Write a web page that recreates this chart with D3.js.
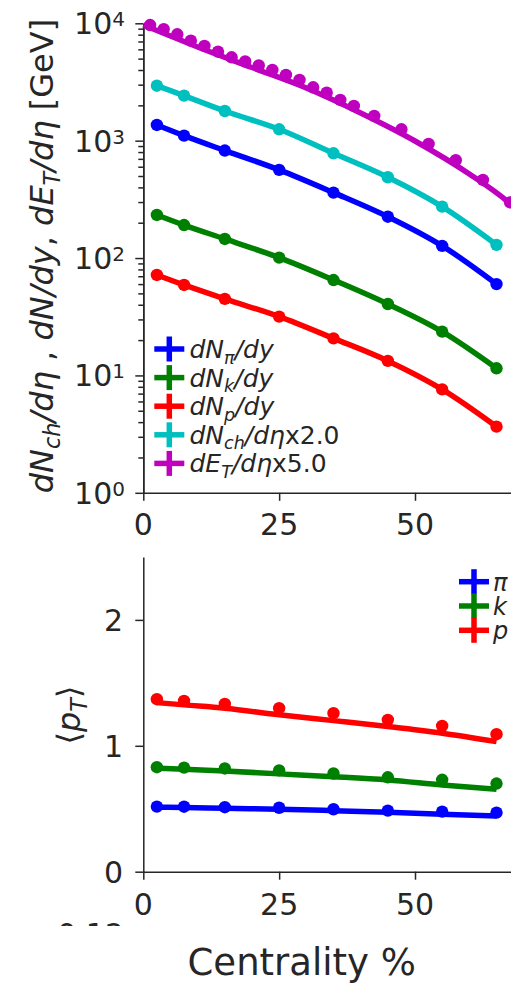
<!DOCTYPE html>
<html>
<head>
<meta charset="utf-8">
<script src="https://cdn.jsdelivr.net/npm/d3@7"></script>
<style>
body{margin:0;background:#fff;}
svg{display:block;font-family:"DejaVu Sans",sans-serif;}
text{white-space:pre;}
</style>
</head>
<body>
<script>
// centrality bins (bin centres, %)
var centrality = [2.5, 7.5, 15, 25, 35, 45, 55, 65];

// multiplicities
var dNpi  = [1361, 1104, 824, 564, 361, 225, 127, 60];
var dNk   = [233, 191, 145.5, 100.8, 65, 40.6, 23.6, 11.5];
var dNp   = [71.8, 59, 44.9, 31.7, 20.7, 13.3, 7.6, 3.66];
var dNch2 = [2940, 2418, 1790, 1250, 781, 488, 274, 129.5];

// transverse energy (x5), finer binning
var etCentrality = [1.25, 3.75, 6.25, 8.75, 11.25, 13.75, 16.25, 18.75, 21.25, 23.75,
                    26.25, 28.75, 31.25, 33.75, 36.25, 38.75, 42.5, 47.5, 52.5, 57.5, 62.5, 67.5];
var dEt5 = [9670, 8900, 8060, 7110, 6410, 5730, 5130, 4730, 4370, 4000,
            3630, 3290, 2850, 2565, 2222, 1976, 1625, 1251, 937, 682, 463, 298];
var etModelX = [0, 5, 10, 20, 30, 40, 50, 60, 67.5, 70];
var etModel  = [9672, 7798, 6285, 4203, 2812, 1722, 994, 520, 291, 228];

// mean pT
var ptPi = [0.517, 0.516, 0.512, 0.508, 0.496, 0.485, 0.477, 0.469];
var ptK  = [0.83, 0.827, 0.82, 0.805, 0.78, 0.75, 0.73, 0.70];
var ptP  = [1.37, 1.357, 1.333, 1.299, 1.259, 1.206, 1.158, 1.092];
var ptPiModel = [0.512, 0.510, 0.503, 0.496, 0.485, 0.472, 0.456, 0.443];
var ptKModel  = [0.822, 0.814, 0.800, 0.777, 0.755, 0.729, 0.689, 0.655];
var ptPModel  = [1.343, 1.325, 1.299, 1.246, 1.200, 1.153, 1.100, 1.033];

var xTicks = [0, 25, 50];
var logTicks = [1, 10, 100, 1000, 10000];
var ptTicks = [0, 1, 2];

var W = 511, H = 983;
var ink = "#262626";
var colB = "#0000ff", colG = "#008000", colR = "#ff0000", colC = "#00bfbf", colM = "#bf00bf";

var svg = d3.select("body").append("svg").attr("width", W).attr("height", H);

var x = d3.scaleLinear().domain([0, 70]).range([143.3, 143.3 + 70 * 5.434]);
var yTop = d3.scaleLog().domain([1, 1e4]).range([492.8, 23.3]);
var yBot = d3.scaleLinear().domain([0, 2.5]).range([871.7, 871.7 - 2.5 * 125.9]);

// rich text: parts = [text, italic, sub]
var rich = function(textSel, parts, fs){
	var down = false;
	parts.forEach(function(p){
		var t = textSel.append("tspan").text(p[0]);
		if(p[1]) t.attr("font-style", "italic");
		if(p[2]){
			t.attr("font-size", fs * 0.7).attr("dy", fs * 0.22);
			down = true;
		} else if(down){
			t.attr("dy", -fs * 0.22);
			down = false;
		}
	});
};

var styleAxis = function(g){
	g.selectAll("path.domain").attr("stroke", ink).attr("stroke-width", 1.5);
	g.selectAll(".tick line").attr("stroke", ink).attr("stroke-width", 1.5);
	g.selectAll(".tick text").remove();
};

// ---------- top panel ----------
var minor = [];
for(var e = 0; e < 4; e++){
	for(var m = 2; m < 10; m++) minor.push(m * Math.pow(10, e));
}
svg.append("g").attr("transform", "translate(143.3,0)")
	.call(d3.axisLeft(yTop).tickValues(minor).tickSize(5).tickSizeOuter(0).tickFormat(""))
	.call(styleAxis);
svg.append("g").attr("transform", "translate(143.3,0)")
	.call(d3.axisLeft(yTop).tickValues(logTicks).tickSize(8).tickSizeOuter(0).tickFormat(""))
	.call(styleAxis);
svg.append("g").attr("transform", "translate(0,492.8)")
	.call(d3.axisBottom(x).tickValues(xTicks).tickSize(8).tickSizeOuter(0).tickFormat(""))
	.call(styleAxis);

logTicks.forEach(function(v){
	var t = svg.append("text").attr("x", 125).attr("y", yTop(v) + 11)
		.attr("text-anchor", "end").attr("font-size", 30).attr("fill", ink);
	t.append("tspan").text("10");
	t.append("tspan").text(String(Math.round(Math.log10(v)))).attr("font-size", 20).attr("dy", -8);
});
xTicks.forEach(function(v){
	svg.append("text").attr("x", x(v)).attr("y", 535).attr("text-anchor", "middle")
		.attr("font-size", 30).attr("fill", ink).text(v);
});

var topLabel = svg.append("g").attr("transform", "translate(53,256) rotate(-90)")
	.append("text").attr("text-anchor", "middle").attr("font-size", 32).attr("fill", ink);
rich(topLabel, [["dN", 1], ["ch", 1, 1], ["/d\u03b7", 1], [" , "], ["dN/dy", 1], [", "],
	["dE", 1], ["T", 1, 1], ["/d\u03b7", 1], [" [GeV]"]], 32);

var drawSeries = function(xs, ys, yScale, color, lineXs, lineYs){
	var line = d3.line().x(function(d){ return x(d[0]); }).y(function(d){ return yScale(d[1]); })
		.curve(d3.curveMonotoneX);
	svg.append("path").datum(d3.zip(lineXs, lineYs)).attr("d", line)
		.attr("fill", "none").attr("stroke", color).attr("stroke-width", 5.5)
		.attr("stroke-linejoin", "round");
	svg.append("g").selectAll("circle").data(d3.zip(xs, ys)).enter().append("circle")
		.attr("cx", function(d){ return x(d[0]); })
		.attr("cy", function(d){ return yScale(d[1]); })
		.attr("r", 6.2).attr("fill", color);
};

drawSeries(etCentrality, dEt5, yTop, colM, etModelX, etModel);
drawSeries(centrality, dNch2, yTop, colC, centrality, dNch2);
drawSeries(centrality, dNpi, yTop, colB, centrality, dNpi);
drawSeries(centrality, dNk, yTop, colG, centrality, dNk);
drawSeries(centrality, dNp, yTop, colR, centrality, dNp);

var legend = function(cx, y0, step, tx, fs, items){
	items.forEach(function(it, i){
		var cy = y0 + i * step;
		svg.append("line").attr("x1", cx - 15).attr("x2", cx + 15).attr("y1", cy).attr("y2", cy)
			.attr("stroke", it[0]).attr("stroke-width", 5.5);
		svg.append("line").attr("x1", cx).attr("x2", cx).attr("y1", cy - 12.5).attr("y2", cy + 12.5)
			.attr("stroke", it[0]).attr("stroke-width", 5.5);
		var t = svg.append("text").attr("x", tx).attr("y", cy + 9).attr("font-size", fs).attr("fill", ink);
		rich(t, it[1], fs);
	});
};

legend(169.3, 349, 28.6, 189.5, 25, [
	[colB, [["dN", 1], ["\u03c0", 1, 1], ["/dy", 1]]],
	[colG, [["dN", 1], ["k", 1, 1], ["/dy", 1]]],
	[colR, [["dN", 1], ["p", 1, 1], ["/dy", 1]]],
	[colC, [["dN", 1], ["ch", 1, 1], ["/d\u03b7", 1], ["x2.0"]]],
	[colM, [["dE", 1], ["T", 1, 1], ["/d\u03b7", 1], ["x5.0"]]]
]);

// ---------- bottom panel ----------
svg.append("g").attr("transform", "translate(143.3,0)")
	.call(d3.axisLeft(yBot).tickValues(ptTicks).tickSize(8).tickSizeOuter(0).tickFormat(""))
	.call(styleAxis);
svg.append("g").attr("transform", "translate(0,871.7)")
	.call(d3.axisBottom(x).tickValues(xTicks).tickSize(8).tickSizeOuter(0).tickFormat(""))
	.call(styleAxis);

ptTicks.forEach(function(v){
	svg.append("text").attr("x", 123).attr("y", yBot(v) + 11).attr("text-anchor", "end")
		.attr("font-size", 30).attr("fill", ink).text(v);
});
xTicks.forEach(function(v){
	svg.append("text").attr("x", x(v)).attr("y", 915).attr("text-anchor", "middle")
		.attr("font-size", 30).attr("fill", ink).text(v);
});

var botLabel = svg.append("g").attr("transform", "translate(80,715) rotate(-90)")
	.append("text").attr("text-anchor", "middle").attr("font-size", 32).attr("fill", ink);
rich(botLabel, [["\u27e8"], ["p", 1], ["T", 1, 1], ["\u27e9"]], 32);

drawSeries(centrality, ptPi, yBot, colB, centrality, ptPiModel);
drawSeries(centrality, ptK, yBot, colG, centrality, ptKModel);
drawSeries(centrality, ptP, yBot, colR, centrality, ptPModel);

legend(474, 581.7, 24.3, 493, 24, [
	[colB, [["\u03c0", 1]]],
	[colG, [["k", 1]]],
	[colR, [["p", 1]]]
]);

// tick label of a panel hidden below, only its top shows
svg.append("clipPath").attr("id", "peek").append("rect")
	.attr("x", 0).attr("y", 918).attr("width", W).attr("height", 8);
svg.append("text").attr("x", 124).attr("y", 945).attr("text-anchor", "end")
	.attr("font-size", 30).attr("fill", ink).attr("clip-path", "url(#peek)").text("0.12");

svg.append("text").attr("x", 301.7).attr("y", 975).attr("text-anchor", "middle")
	.attr("font-size", 37).attr("fill", ink).text("Centrality %");
</script>
</body>
</html>
